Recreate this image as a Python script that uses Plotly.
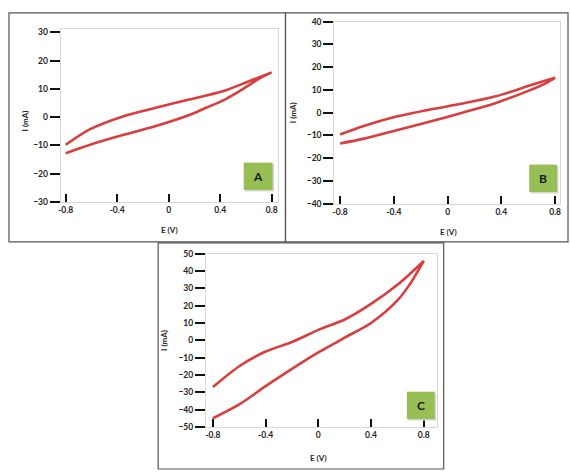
import plotly.graph_objects as go

# ---------------- data ----------------
# Panel A
A_E_fwd = [-0.80, -0.61, -0.35, -0.10, 0.16, 0.42, 0.62, 0.80]
A_I_fwd = [-9.8, -4.3, 0.3, 3.3, 6.2, 9.1, 12.6, 15.8]
A_E_rev = [0.80, 0.70, 0.57, 0.42, 0.29, 0.16, -0.10, -0.35, -0.61, -0.80]
A_I_rev = [15.8, 13.5, 9.7, 5.8, 3.3, 0.7, -3.2, -6.3, -9.8, -12.8]

# Panel B
B_E_fwd = [-0.80, -0.63, -0.38, -0.13, 0.11, 0.36, 0.61, 0.80]
B_I_fwd = [-9.6, -6.0, -1.7, 1.4, 4.0, 7.2, 11.9, 15.4]
B_E_rev = [0.80, 0.73, 0.61, 0.36, 0.11, -0.13, -0.38, -0.63, -0.80]
B_I_rev = [15.4, 12.9, 9.8, 4.3, 0.0, -3.9, -7.7, -11.5, -13.5]

# Panel C
C_E_fwd = [-0.80, -0.60, -0.40, -0.20, 0.00, 0.20, 0.40, 0.60, 0.80]
C_I_fwd = [-27.0, -15.0, -6.5, -1.0, 6.0, 12.0, 21.0, 32.0, 45.8]
C_E_rev = [0.80, 0.70, 0.60, 0.40, 0.20, 0.00, -0.20, -0.40, -0.60, -0.80]
C_I_rev = [45.8, 33.0, 23.0, 10.0, 1.5, -7.0, -16.5, -26.5, -37.0, -45.0]

x_ticks = [-0.8, -0.4, 0, 0.4, 0.8]
x_tick_text = ["-0.8", "-0.4", "0", "0.4", "0.8"]
A_y_ticks = [-30, -20, -10, 0, 10, 20, 30]
B_y_ticks = [-40, -30, -20, -10, 0, 10, 20, 30, 40]
C_y_ticks = [-50, -40, -30, -20, -10, 0, 10, 20, 30, 40, 50]
panel_labels = ["A", "B", "C"]

W, H = 570, 475
def px(x):
    return x / W
def py(y):
    return 1 - y / H

RED = "#d42a2a"
FONT = "Lato"

fig = go.Figure()

panels = [
    (A_E_fwd + A_E_rev, A_I_fwd + A_I_rev, "x", "y"),
    (B_E_fwd + B_E_rev, B_I_fwd + B_I_rev, "x2", "y2"),
    (C_E_fwd + C_E_rev, C_I_fwd + C_I_rev, "x3", "y3"),
]
for E, I, xa, ya in panels:
    fig.add_trace(go.Scatter(x=E, y=I, xaxis=xa, yaxis=ya, mode="lines",
                             line=dict(color=RED, width=2.6, shape="spline", smoothing=0.8),
                             opacity=0.9, showlegend=False, hoverinfo="skip"))

def xaxis(dom, rng, anchor):
    return dict(domain=[px(dom[0]), px(dom[1])], range=rng, anchor=anchor,
                tickvals=x_ticks, ticktext=x_tick_text,
                ticks="inside", ticklen=8, tickwidth=2, tickcolor="#111",
                showline=True, linecolor="#d8d8d8", linewidth=1, mirror=True,
                showgrid=False, zeroline=False,
                tickfont=dict(family=FONT, size=8.5, color="#222", weight="bold"))

def yaxis(dom, rng, ticks, anchor):
    return dict(domain=[py(dom[0]), py(dom[1])], range=rng, anchor=anchor,
                tickvals=ticks,
                ticks="outside", ticklen=10, tickwidth=2, tickcolor="#111",
                showline=True, linecolor="#d8d8d8", linewidth=1, mirror=True,
                showgrid=False, zeroline=False,
                tickfont=dict(family=FONT, size=8.5, color="#222", weight="bold"))

fig.update_layout(
    width=W, height=H, margin=dict(l=0, r=0, t=0, b=0),
    paper_bgcolor="white", plot_bgcolor="white",
    xaxis=xaxis((59, 277), [-0.839, 0.846], "y"),
    yaxis=yaxis((201, 25), [-30, 31], A_y_ticks, "x"),
    xaxis2=xaxis((334, 561), [-0.844, 0.837], "y2"),
    yaxis2=yaxis((203, 17), [-40, 40], B_y_ticks, "x2"),
    xaxis3=xaxis((205, 437), [-0.853, 0.898], "y3"),
    yaxis3=yaxis((431, 254), [-50, 50], C_y_ticks, "x3"),
)

shapes = []
# panel frames
for x0, y0, x1, y1 in [(7, 8, 285, 242), (285, 8, 569, 242), (157, 243, 444, 474)]:
    shapes.append(dict(type="rect", xref="paper", yref="paper",
                       x0=px(x0), x1=px(x1), y0=py(y1), y1=py(y0),
                       line=dict(color="#555", width=1.2), fillcolor="rgba(0,0,0,0)"))
# green label boxes (shadow + box)
boxes = [(243, 161, 272, 189), (530, 163, 558, 191), (407, 395, 435, 423)]
for x0, y0, x1, y1 in boxes:
    shapes.append(dict(type="rect", xref="paper", yref="paper",
                       x0=px(x0 + 1.5), x1=px(x1 + 1.5), y0=py(y1 + 1.5), y1=py(y0 + 1.5),
                       line=dict(width=0), fillcolor="#d6d6d6"))
    shapes.append(dict(type="rect", xref="paper", yref="paper",
                       x0=px(x0), x1=px(x1), y0=py(y1), y1=py(y0),
                       line=dict(width=0), fillcolor="#97bf55"))
fig.update_layout(shapes=shapes)

ann = []
for (x0, y0, x1, y1), lab in zip(boxes, panel_labels):
    ann.append(dict(x=px((x0 + x1) / 2), y=py((y0 + y1) / 2), xref="paper", yref="paper",
                    text=lab, showarrow=False, xanchor="center", yanchor="middle",
                    font=dict(family=FONT, size=12, color="#1a1a1a", weight="bold")))
for x, y in [(23, 118), (292, 110), (163, 343)]:
    ann.append(dict(x=px(x), y=py(y), xref="paper", yref="paper", text="I (mA)",
                    textangle=-90, showarrow=False, xanchor="center", yanchor="middle",
                    font=dict(family=FONT, size=8, color="#222", weight="bold")))
for x, y in [(168, 230), (449, 232), (318, 463)]:
    ann.append(dict(x=px(x), y=py(y), xref="paper", yref="paper", text="E (V)",
                    showarrow=False, xanchor="center", yanchor="middle",
                    font=dict(family=FONT, size=8, color="#222", weight="bold")))
fig.update_layout(annotations=ann)

fig.write_html("out.html", config={"displayModeBar": False},
               post_script="document.body.style.margin='0';document.body.style.overflow='hidden';")
